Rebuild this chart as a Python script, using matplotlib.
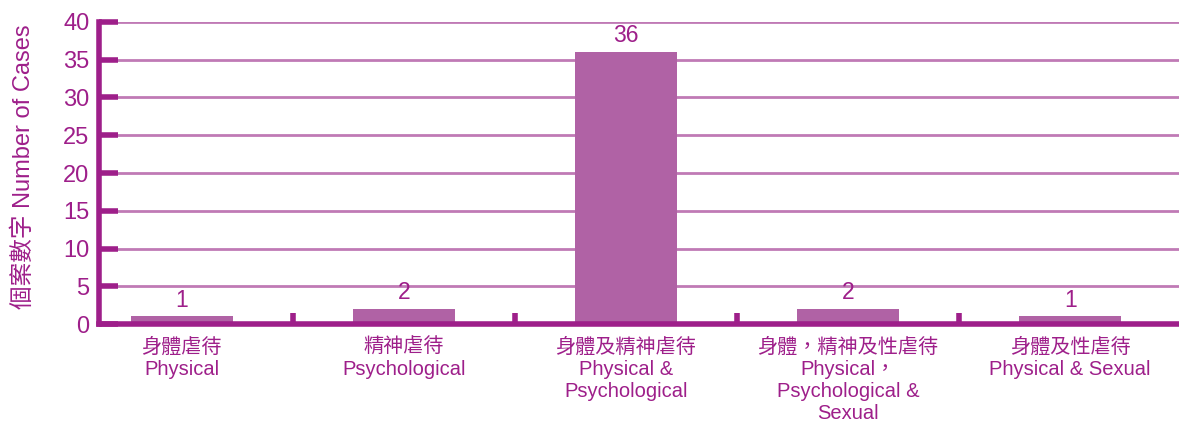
import matplotlib.pyplot as plt
import numpy as np

plt.rcParams['font.family'] = ['Liberation Sans', 'Noto Sans CJK TC', 'DejaVu Sans']

# 數據
labels_zh = ['身體虐待', '精神虐待', '身體及精神虐待', '身體，精神及性虐待', '身體及性虐待']
labels_en = ['Physical', 'Psychological', 'Physical &\nPsychological',
             'Physical，\nPsychological &\nSexual', 'Physical & Sexual']
cases = [1, 2, 36, 2, 1]
yticks = [0, 5, 10, 15, 20, 25, 30, 35, 40]

dark = '#9E1F8A'
bar_col = '#B062A5'
grid_col = '#C07AB5'

fig = plt.figure(figsize=(11.79, 4.23), dpi=100)
ax = fig.add_axes([99/1179, 1 - 324/423, 1 - 99/1179, 302/423])

x = np.arange(len(cases))
ax.bar(x, cases, width=0.46, color=bar_col, zorder=3)
for xi, v in zip(x, cases):
    ax.annotate(str(v), xy=(xi, v), xytext=(0, 7), textcoords='offset points',
                ha='center', va='baseline', fontsize=16.5, color=dark)

ax.set_xlim(-0.372, 4.49)
ax.set_ylim(0, 40)
ax.set_yticks(yticks)
ax.set_yticklabels([str(t) for t in yticks], fontsize=17, color=dark)
ax.tick_params(axis='y', direction='in', length=14, width=4, color=dark, pad=7)
for t in yticks[1:]:
    ax.axhline(t, color=grid_col, lw=2, zorder=1)

# category separators on x axis
ax.set_xticks([0.5, 1.5, 2.5, 3.5])
ax.set_xticklabels([])
ax.tick_params(axis='x', direction='in', length=8, width=4, color=dark)
for xi, zh, en in zip(x, labels_zh, labels_en):
    ax.annotate(zh + '\n' + en, xy=(xi, 0), xytext=(0, -10), textcoords='offset points',
                ha='center', va='top', fontsize=14.5, color=dark,
                linespacing=1.2, annotation_clip=False)

for s in ['top', 'right']:
    ax.spines[s].set_visible(False)
for s in ['left', 'bottom']:
    ax.spines[s].set_color(dark)
    ax.spines[s].set_linewidth(4)
    ax.spines[s].set_zorder(4)

ax.set_ylabel('個案數字 Number of Cases', fontsize=17, color=dark)
ax.yaxis.set_label_coords(-0.0593, 0.52)

fig.savefig('out.png', dpi=100)
